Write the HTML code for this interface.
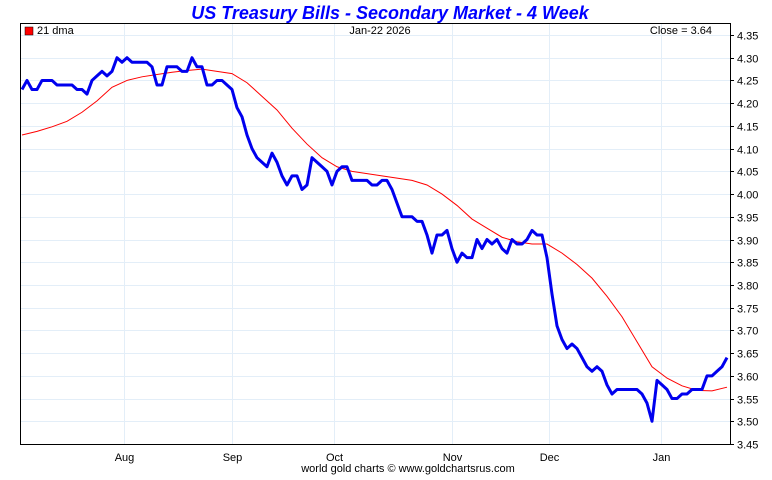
<!DOCTYPE html>
<html><head><meta charset="utf-8"><style>
body{margin:0;background:#fff;}
svg text{font-family:"Liberation Sans",sans-serif;}
</style></head><body>
<svg id="c" width="772" height="475" xmlns="http://www.w3.org/2000/svg">
<text x="390" y="19" text-anchor="middle" font-size="18" font-weight="bold" font-style="italic" fill="#0000ff">US Treasury Bills - Secondary Market - 4 Week</text>
<g id="grid"></g>
<g id="series"></g>
<rect x="20.5" y="23.5" width="710" height="421" fill="none" stroke="#000"/>
<g id="axes"></g>
<rect x="25" y="27" width="8" height="8" fill="#f00" stroke="#000" stroke-width="0.5"/>
<text x="37" y="34" font-size="11">21 dma</text>
<text x="380" y="34" text-anchor="middle" font-size="11">Jan-22  2026</text>
<text x="712" y="34" text-anchor="end" font-size="11">Close = 3.64</text>
<text x="408" y="472" text-anchor="middle" font-size="11">world gold charts © www.goldchartsrus.com</text>
</svg>
<script>
const yTicks=[3.45,3.50,3.55,3.60,3.65,3.70,3.75,3.80,3.85,3.90,3.95,4.00,4.05,4.10,4.15,4.20,4.25,4.30,4.35];
const monthLabels=["Aug","Sep","Oct","Nov","Dec","Jan"];
const monthIdx=[20.4,42,62.4,86,105.4,127.8];
const yields=[4.23,4.25,4.23,4.23,4.25,4.25,4.25,4.24,4.24,4.24,4.24,4.23,4.23,4.22,4.25,4.26,4.27,4.26,4.27,4.30,4.29,4.30,4.29,4.29,4.29,4.29,4.28,4.24,4.24,4.28,4.28,4.28,4.27,4.27,4.30,4.28,4.28,4.24,4.24,4.25,4.25,4.24,4.23,4.19,4.17,4.13,4.10,4.08,4.07,4.06,4.09,4.07,4.04,4.02,4.04,4.04,4.01,4.02,4.08,4.07,4.06,4.05,4.02,4.05,4.06,4.06,4.03,4.03,4.03,4.03,4.02,4.02,4.03,4.03,4.01,3.98,3.95,3.95,3.95,3.94,3.94,3.91,3.87,3.91,3.91,3.92,3.88,3.85,3.87,3.86,3.86,3.90,3.88,3.90,3.89,3.90,3.88,3.87,3.90,3.89,3.89,3.90,3.92,3.91,3.91,3.86,3.78,3.71,3.68,3.66,3.67,3.66,3.64,3.62,3.61,3.62,3.61,3.58,3.56,3.57,3.57,3.57,3.57,3.57,3.56,3.54,3.50,3.59,3.58,3.57,3.55,3.55,3.56,3.56,3.57,3.57,3.57,3.60,3.60,3.61,3.62,3.64];
const dma=[4.13,4.138,4.148,4.16,4.18,4.205,4.235,4.25,4.258,4.263,4.268,4.272,4.275,4.27,4.265,4.245,4.215,4.185,4.145,4.11,4.08,4.06,4.05,4.045,4.04,4.035,4.03,4.02,4.00,3.975,3.945,3.925,3.905,3.895,3.89,3.89,3.87,3.845,3.815,3.775,3.73,3.675,3.62,3.595,3.578,3.568,3.567,3.575];
const X0=22,X1=727,NS="http://www.w3.org/2000/svg";
const y=v=>444-(v-3.45)/0.9*409;
const xb=i=>X0+i*(X1-X0)/(yields.length-1);
const xd=i=>X0+i*(X1-X0)/(dma.length-1);
const grid=document.getElementById('grid'),axes=document.getElementById('axes'),ser=document.getElementById('series');
function mk(tag,at,par){const e=document.createElementNS(NS,tag);for(const k in at)e.setAttribute(k,at[k]);par.appendChild(e);return e;}
yTicks.forEach(v=>{
 const yy=Math.round(y(v))+0.5;
 const g=mk('line',{x1:21,x2:730,y1:yy,y2:yy,stroke:'#e3eef8'},grid);
 
 
 const t=mk('line',{x1:730,x2:734,y1:yy,y2:yy,stroke:'#000'},axes);
 
 
 const l=mk('text',{x:737,y:yy+4,'font-size':11},axes);l.textContent=v.toFixed(2);
 
 
});
monthLabels.forEach((m,i)=>{
 const xx=Math.round(xb(monthIdx[i]))+0.5;
 const g=mk('line',{x1:xx,x2:xx,y1:24,y2:444,stroke:'#e3eef8'},grid);
 
 
 const l=mk('text',{x:xx,y:461,'font-size':11,'text-anchor':'middle'},axes);l.textContent=m;
 
 
});
const dl=mk('polyline',{points:dma.map((v,i)=>xd(i)+','+y(v)).join(' '),fill:'none',stroke:'#f00','stroke-width':1},ser);


const bl=mk('polyline',{points:yields.map((v,i)=>xb(i)+','+y(v)).join(' '),fill:'none',stroke:'#0000ee','stroke-width':3,'stroke-linejoin':'round'},ser);


</script>
</body></html>
